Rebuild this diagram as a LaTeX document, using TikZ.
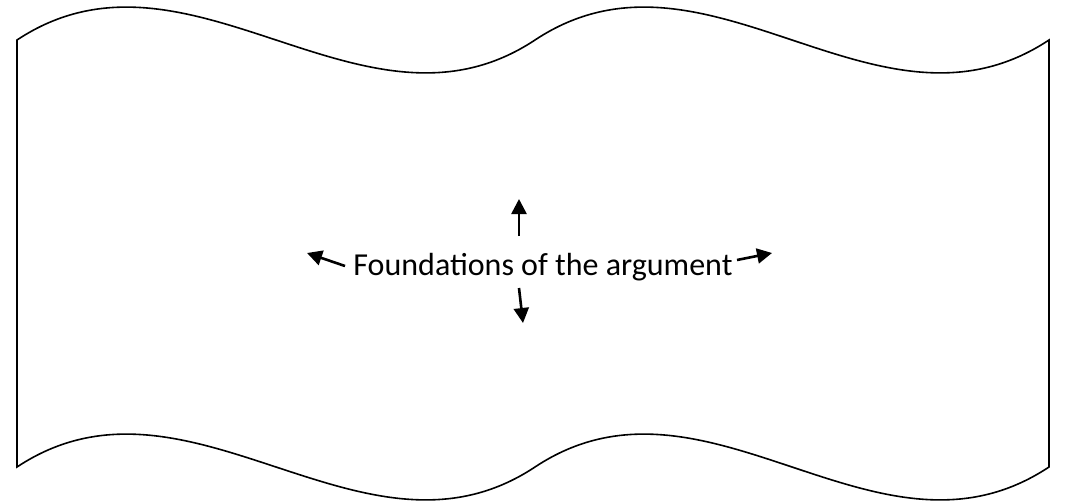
\documentclass[tikz,border=0pt]{standalone}
\usepackage{fontspec}
\setmainfont{Carlito}
\usetikzlibrary{arrows.meta}
\begin{document}
\begin{tikzpicture}[x=1pt,y=-1pt,
  flag/.style={draw=black,line width=1.6pt,line join=miter},
  arr/.style={-{Triangle[length=15pt,width=15pt]},line width=2.6pt},
  lbl/.style={font=\fontsize{32}{38}\selectfont,inner sep=0pt}]
\useasboundingbox (0,0) rectangle (1075,503);
\draw[flag] (17,40) .. controls (189,-74) and (363,154) .. (535,40)
  .. controls (707,-74) and (877,154) .. (1049,40)
  -- (1049,467) .. controls (877,581) and (707,353) .. (535,467)
  .. controls (363,581) and (189,353) .. (17,467) -- cycle;
\node[lbl,anchor=base] (t) at (543,275) {Foundations of the argument};
\coordinate (uS) at (519,236); \coordinate (uT) at (519,199);
\coordinate (lS) at (345,266); \coordinate (lT) at (307,253);
\coordinate (rS) at (737,260); \coordinate (rT) at (772,253);
\coordinate (dS) at (519,288); \coordinate (dT) at (523,323);
\draw[arr] (uS) -- (uT);
\draw[arr] (lS) -- (lT);
\draw[arr] (rS) -- (rT);
\draw[arr] (dS) -- (dT);
\end{tikzpicture}
\end{document}
